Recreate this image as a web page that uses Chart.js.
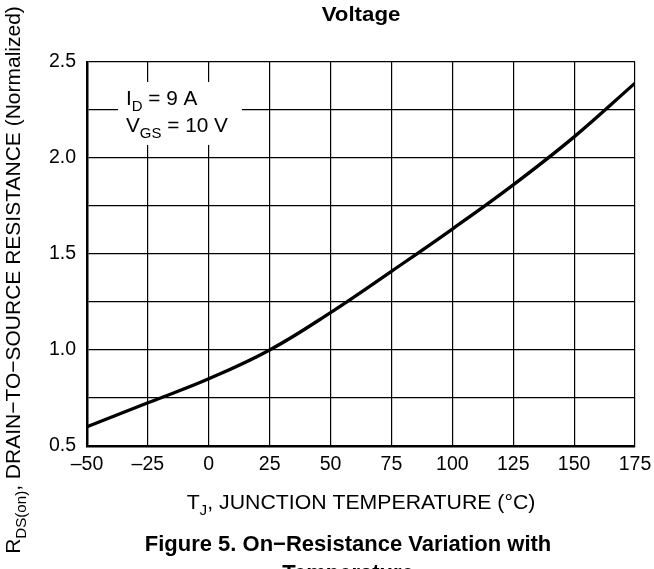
<!DOCTYPE html>
<html>
<head>
<meta charset="utf-8">
<script src="https://cdn.jsdelivr.net/npm/chart.js@4.4.1/dist/chart.umd.min.js"></script>
<style>
  html, body { margin: 0; padding: 0; background: #fff; }
  #wrap { width: 654px; height: 569px; position: relative; }
</style>
</head>
<body>
<div id="wrap"><canvas id="c" width="654" height="569"></canvas></div>
<script>
// ---- data ----
const temperatures = [-50, -25, 0, 25, 50, 75, 100, 125, 150, 175];
const resistance   = [0.60, 0.725, 0.85, 1.00, 1.195, 1.41, 1.63, 1.86, 2.11, 2.39];
const xTickValues  = [-50, -25, 0, 25, 50, 75, 100, 125, 150, 175];
const xTickLabels  = ['\u201350', '\u201325', '0', '25', '50', '75', '100', '125', '150', '175'];
const yTickValues  = [0.5, 1.0, 1.5, 2.0, 2.5];
const yTickLabels  = ['0.5', '1.0', '1.5', '2.0', '2.5'];
const topText      = 'Voltage';
const captionLine1 = 'Figure 5. On\u2212Resistance Variation with';
const captionLine2 = 'Temperature';
const xTitleParts  = [['T', false], ['J', true], [', JUNCTION TEMPERATURE (\u00B0C)', false]];
const yTitleParts  = [['R', false], ['DS(on)', true], [', DRAIN\u2212TO\u2212SOURCE RESISTANCE (Normalized)', false]];
const noteLine1    = [['I', false], ['D', true], [' = 9 A', false]];
const noteLine2    = [['V', false], ['GS', true], [' = 10 V', false]];

const FONT = '"Liberation Sans", Arial, Helvetica, sans-serif';

function richWidth(ctx, parts, size) {
  let w = 0;
  for (const [t, sub] of parts) {
    ctx.font = (sub ? size * 0.72 : size) + 'px ' + FONT;
    w += ctx.measureText(t).width;
  }
  return w;
}
function drawRich(ctx, parts, x, y, size, align, stretch) {
  stretch = stretch || 1;
  ctx.save();
  ctx.translate(x, y);
  ctx.scale(stretch, 1);
  const total = richWidth(ctx, parts, size);
  let cx = align === 'center' ? -total / 2 : 0;
  ctx.textAlign = 'left';
  ctx.textBaseline = 'alphabetic';
  for (const [t, sub] of parts) {
    ctx.font = (sub ? size * 0.72 : size) + 'px ' + FONT;
    ctx.fillText(t, cx, sub ? size * 0.3 : 0);
    cx += ctx.measureText(t).width;
  }
  ctx.restore();
}

const textPlugin = {
  id: 'texts',
  afterDraw(chart) {
    const ctx = chart.ctx;
    const xs = chart.scales.x, ys = chart.scales.y;
    const ca = chart.chartArea;
    const midX = (ca.left + ca.right) / 2;
    ctx.save();
    ctx.fillStyle = '#000';
    // top text
    ctx.save();
    ctx.translate(midX, 21);
    ctx.scale(1.06, 1);
    ctx.font = 'bold 21px ' + FONT;
    ctx.textAlign = 'center';
    ctx.textBaseline = 'alphabetic';
    ctx.fillText(topText, 0, 0);
    ctx.restore();
    // note box
    const bx0 = xs.getPixelForValue(-37.3), bx1 = xs.getPixelForValue(13.6);
    const by0 = ys.getPixelForValue(2.396), by1 = ys.getPixelForValue(2.068);
    ctx.fillStyle = '#fff';
    ctx.fillRect(bx0, by0, bx1 - bx0, by1 - by0);
    ctx.fillStyle = '#000';
    drawRich(ctx, noteLine1, bx0 + 8, by0 + 23, 20, 'left', 1.04);
    drawRich(ctx, noteLine2, bx0 + 8, by0 + 50, 20, 'left', 1.04);
    // x title
    drawRich(ctx, xTitleParts, midX, 509, 19.5, 'center', 1.09);
    // caption
    ctx.font = 'bold 22px ' + FONT;
    ctx.textAlign = 'center';
    ctx.fillText(captionLine1, 348, 551);
    ctx.fillText(captionLine2, 348, 580);
    // y title rotated
    ctx.translate(20, 280);
    ctx.rotate(-Math.PI / 2);
    drawRich(ctx, yTitleParts, 0, 0, 21, 'center', 1);
    ctx.restore();
  }
};

new Chart(document.getElementById('c'), {
  type: 'line',
  data: {
    labels: temperatures,
    datasets: [{
      data: temperatures.map((t, i) => ({ x: t, y: resistance[i] })),
      borderColor: '#000',
      borderWidth: 3.3,
      pointRadius: 0,
      fill: false,
      tension: 0.4
    }]
  },
  options: {
    responsive: false,
    animation: false,
    devicePixelRatio: 1,
    layout: { padding: { top: 62, right: 19, bottom: 0, left: 0 } },
    plugins: { legend: { display: false }, tooltip: { enabled: false }, title: { display: false } },
    scales: {
      x: {
        type: 'linear',
        min: -50, max: 175,
        afterBuildTicks(scale) { scale.ticks = xTickValues.map(v => ({ value: v })); },
        afterFit(scale) { scale.height = 123; scale.paddingRight = 0; scale.paddingLeft = 0; },
        ticks: {
          padding: 7,
          color: '#000',
          font: { family: FONT, size: 19.5 },
          maxRotation: 0,
          autoSkip: false,
          callback(v) { const i = xTickValues.indexOf(v); return i >= 0 ? xTickLabels[i] : ''; }
        },
        grid: { color: '#000', lineWidth: 1.2, drawTicks: false },
        border: { color: '#000', width: 2.5 }
      },
      y: {
        min: 0.5, max: 2.5,
        afterBuildTicks(scale) {
          const t = [];
          for (let v = 0.5; v <= 2.5001; v += 0.25) t.push({ value: Math.round(v * 100) / 100 });
          scale.ticks = t;
        },
        afterFit(scale) { scale.width = 87; scale.paddingTop = 0; scale.paddingBottom = 0; },
        ticks: {
          padding: 11,
          color: '#000',
          font: { family: FONT, size: 19.5 },
          autoSkip: false,
          callback(v) { const i = yTickValues.indexOf(v); return i >= 0 ? yTickLabels[i] : ''; }
        },
        grid: { color: '#000', lineWidth: 1.2, drawTicks: false },
        border: { color: '#000', width: 2.5 }
      }
    }
  },
  plugins: [textPlugin]
});
</script>
</body>
</html>
